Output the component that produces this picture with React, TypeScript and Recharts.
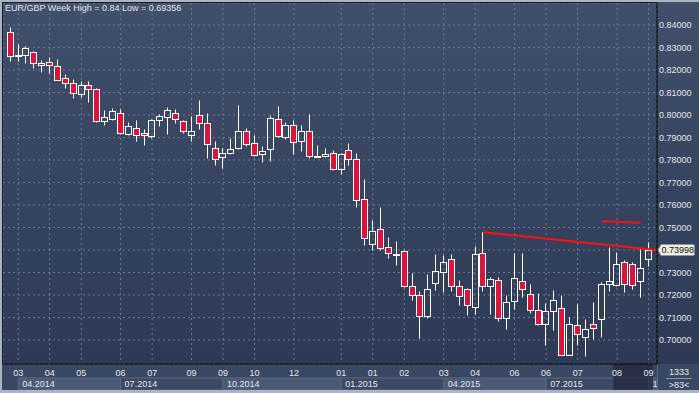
import React from 'react';
import { ComposedChart, Bar, XAxis, YAxis, CartesianGrid, ReferenceLine, ReferenceArea } from 'recharts';

// weekly EUR/GBP candles, oldest first
const opens = [
  0.8370, 0.8262, 0.8265, 0.8279, 0.8221, 0.8234, 0.8219, 0.8163, 0.8141, 0.8092,
  0.8132, 0.8114, 0.7972, 0.7984, 0.8007, 0.7917, 0.7942, 0.7919, 0.7908, 0.7978,
  0.7990, 0.8007, 0.7972, 0.7910, 0.7999, 0.7963, 0.7852, 0.7812, 0.7830, 0.7852,
  0.7929, 0.7874, 0.7825, 0.7848, 0.7981, 0.7901, 0.7954, 0.7883, 0.7929, 0.7816,
  0.7819, 0.7830, 0.7759, 0.7843, 0.7803, 0.7625, 0.7425, 0.7492, 0.7415, 0.7380,
  0.7394, 0.7241, 0.7199, 0.7108, 0.7252, 0.7304, 0.7359, 0.7239, 0.7225, 0.7148,
  0.7385, 0.7241, 0.7265, 0.7099, 0.7175, 0.7261, 0.7203, 0.7132, 0.7070, 0.7127,
  0.7144, 0.6935, 0.7068, 0.7015, 0.7070, 0.7095, 0.7248, 0.7243, 0.7348, 0.7336,
  0.7261, 0.7359,
];
const highs = [
  0.8392, 0.8316, 0.8307, 0.8284, 0.8243, 0.8256, 0.8248, 0.8182, 0.8159, 0.8151,
  0.8150, 0.8119, 0.8022, 0.8033, 0.8028, 0.7968, 0.7978, 0.7938, 0.7984, 0.8003,
  0.8034, 0.8025, 0.7978, 0.7996, 0.8067, 0.8007, 0.7886, 0.7852, 0.7896, 0.8044,
  0.7942, 0.7911, 0.7864, 0.8000, 0.8040, 0.7970, 0.7979, 0.7956, 0.8004, 0.7867,
  0.7855, 0.7844, 0.7830, 0.7876, 0.7830, 0.7716, 0.7533, 0.7591, 0.7459, 0.7440,
  0.7400, 0.7296, 0.7216, 0.7293, 0.7382, 0.7378, 0.7382, 0.7267, 0.7231, 0.7418,
  0.7479, 0.7281, 0.7281, 0.7200, 0.7388, 0.7388, 0.7249, 0.7208, 0.7163, 0.7222,
  0.7200, 0.7104, 0.7160, 0.7092, 0.7168, 0.7259, 0.7415, 0.7392, 0.7356, 0.7348,
  0.7408, 0.7434,
];
const lows = [
  0.8241, 0.8241, 0.8230, 0.8210, 0.8192, 0.8188, 0.8156, 0.8121, 0.8077, 0.8081,
  0.8059, 0.7970, 0.7956, 0.7978, 0.7917, 0.7911, 0.7886, 0.7867, 0.7899, 0.7951,
  0.7916, 0.7966, 0.7921, 0.7886, 0.7936, 0.7808, 0.7778, 0.7763, 0.7825, 0.7849,
  0.7864, 0.7819, 0.7792, 0.7797, 0.7901, 0.7894, 0.7827, 0.7841, 0.7810, 0.7815,
  0.7813, 0.7757, 0.7738, 0.7778, 0.7591, 0.7422, 0.7400, 0.7400, 0.7366, 0.7333,
  0.7236, 0.7179, 0.7010, 0.7099, 0.7224, 0.7212, 0.7218, 0.7156, 0.7111, 0.7114,
  0.7218, 0.7116, 0.7086, 0.7049, 0.7136, 0.7192, 0.7121, 0.7068, 0.6978, 0.7044,
  0.69356, 0.69356, 0.6978, 0.6930, 0.7003, 0.7015, 0.7219, 0.7241, 0.7215, 0.7227,
  0.7192, 0.7330,
];
const closes = [
  0.8262, 0.8266, 0.8296, 0.8230, 0.8231, 0.8221, 0.8157, 0.8141, 0.8096, 0.8132,
  0.8114, 0.7972, 0.7990, 0.8018, 0.7919, 0.7950, 0.7910, 0.7910, 0.7978, 0.7994,
  0.8021, 0.7984, 0.7928, 0.7929, 0.7963, 0.7870, 0.7803, 0.7830, 0.7849, 0.7929,
  0.7870, 0.7824, 0.7838, 0.7985, 0.7905, 0.7954, 0.7879, 0.7929, 0.7819, 0.7817,
  0.7825, 0.7759, 0.7825, 0.7803, 0.7621, 0.7452, 0.7484, 0.7408, 0.7385, 0.7379,
  0.7239, 0.7199, 0.7105, 0.7225, 0.7305, 0.7345, 0.7239, 0.7197, 0.7154, 0.7381,
  0.7241, 0.7270, 0.7096, 0.7168, 0.7274, 0.7225, 0.7132, 0.7070, 0.7127, 0.7176,
  0.6935, 0.7073, 0.7025, 0.7048, 0.7052, 0.7248, 0.7261, 0.7336, 0.7248, 0.7243,
  0.7319, 0.73998,
];

const monthTicks = [2, 6, 10, 15, 19, 24, 28, 32, 37, 43, 47, 51, 56, 60, 65, 69, 73, 78, 82];
const monthLabels = ['03', '04', '05', '06', '07', '09', '09', '10', '12', '01', '01', '02', '03', '04', '06', '06', '07', '08', '09'];
const quarterStarts = [2, 15, 28, 43, 56, 69, 82];
const quarterLabels = ['04.2014', '07.2014', '10.2014', '01.2015', '04.2015', '07.2015', '10.2015'];
const priceTicks = [0.70, 0.71, 0.72, 0.73, 0.74, 0.75, 0.76, 0.77, 0.78, 0.79, 0.80, 0.81, 0.82, 0.83, 0.84];
const trendLine = [{ x: 61, y: 0.7479 }, { x: 83.07, y: 0.73996 }];
const shortLine = [{ x: 76.05, y: 0.75276 }, { x: 81, y: 0.75213 }];
const lastPrice = 0.73998;

const xDomain = [0.074, 83.07];
const yDomain = [0.68933, 0.84978];

const candles = opens.map((o, k) => ({
  i: k + 1,
  o,
  h: highs[k],
  l: lows[k],
  c: closes[k],
  range: [lows[k], highs[k]],
}));

const textColor = '#e2e6ed';
const font = "Arial, 'Liberation Sans', sans-serif";

const snap = (v: number) => Math.round(v) + 0.5;

const Candle = (props: any) => {
  const { x, y, width, height, payload } = props;
  const { o, h, l, c } = payload;
  const span = h - l;
  const py = (v: number) => y + (span === 0 ? 0 : ((h - v) / span) * height);
  const cx = Math.floor(x + width / 2) + 0.5;
  const top = snap(py(Math.max(o, c)));
  const bot = Math.max(snap(py(Math.min(o, c))), top + 1);
  const hi = snap(y);
  const lo = snap(y + height);
  const up = c >= o;
  return (
    <g>
      <line x1={cx} x2={cx} y1={hi} y2={top} stroke="#ffffff" strokeWidth={1} />
      <line x1={cx} x2={cx} y1={bot} y2={lo} stroke="#ffffff" strokeWidth={1} />
      <rect x={cx - 3} y={top} width={6} height={bot - top} fill={up ? 'none' : '#dc143c'} stroke="#ffffff" strokeWidth={1} />
    </g>
  );
};

const PriceTag = (props: any) => {
  const { viewBox } = props;
  const x = viewBox.x + viewBox.width;
  const y = viewBox.y;
  return (
    <g>
      <path
        d={`M${x + 1},${y} L${x + 4},${y - 5.5} H${x + 36} Q${x + 37.5},${y - 5.5} ${x + 37.5},${y - 4} V${y + 4} Q${x + 37.5},${y + 5.5} ${x + 36},${y + 5.5} H${x + 4} Z`}
        fill="#f0f0e2"
        stroke="#8d94a0"
        strokeWidth={1}
      />
      <text x={x + 4.5} y={y + 3.3} fontSize={9} fill="#111111" fontFamily={font}>
        {lastPrice.toFixed(5)}
      </text>
    </g>
  );
};

// quarter label, cut down to what fits in its box (the last box is cut off by the edge)
const QuarterLabel = (props: any) => {
  const { viewBox, text } = props;
  const w = Math.max(viewBox.width, 0);
  const fits = Math.max(0, Math.ceil((w - 4) / 5));
  return (
    <svg x={viewBox.x} y={viewBox.y} width={w} height={Math.max(viewBox.height, 0)} overflow="hidden">
      <text x={4} y={viewBox.height / 2 + 3.2} fontSize={9} fill={textColor} fontFamily={font}>
        {text.slice(0, fits)}
      </text>
    </svg>
  );
};

export default function App() {
  return (
    <div
      style={{
        position: 'absolute',
        left: 0,
        top: 0,
        width: 699,
        height: 393,
        overflow: 'hidden',
        background: 'linear-gradient(#414f6b, #2c3853)',
        fontFamily: font,
      }}
    >
      <div style={{ position: 'absolute', left: 0, top: 364, width: 699, height: 29, background: '#3a4763' }} />
      <ComposedChart
        width={699}
        height={393}
        data={candles}
        margin={{ top: 3, right: 0, bottom: 0, left: 3 }}
        style={{ position: 'absolute', left: 0, top: 0 }}
      >
        <CartesianGrid stroke="#6c7c99" strokeDasharray="2 3" />
        <XAxis
          dataKey="i"
          type="number"
          domain={xDomain}
          allowDataOverflow
          ticks={monthTicks}
          interval={0}
          height={29}
          tickSize={0}
          tickMargin={6}
          axisLine={{ stroke: '#000000' }}
          tick={{ fill: textColor, fontSize: 9 }}
          tickFormatter={(v: number) => monthLabels[monthTicks.indexOf(v)] ?? ''}
        />
        <YAxis
          orientation="right"
          type="number"
          domain={yDomain}
          allowDataOverflow
          ticks={priceTicks}
          interval={0}
          width={42}
          tickSize={0}
          tickMargin={2}
          axisLine={{ stroke: '#000000' }}
          tick={{ fill: textColor, fontSize: 9, textAnchor: 'start' }}
          tickFormatter={(v: number) => (v === 0.74 ? '' : v.toFixed(5))}
        />
        {quarterStarts.map((s, k) => (
          <ReferenceArea
            key={quarterLabels[k]}
            x1={s}
            x2={quarterStarts[k + 1] ?? xDomain[1]}
            y1={0.6831}
            y2={0.6778}
            ifOverflow="visible"
            fill={k % 2 === 0 ? '#4b5975' : '#3c4864'}
            fillOpacity={1}
            stroke="#5b6883"
            label={<QuarterLabel text={quarterLabels[k]} />}
          />
        ))}
        <Bar dataKey="range" shape={<Candle />} isAnimationActive={false} />
        <ReferenceLine segment={trendLine} stroke="#ff1010" strokeWidth={2} ifOverflow="visible" />
        <ReferenceLine segment={shortLine} stroke="#ff1010" strokeWidth={2} ifOverflow="visible" />
        <ReferenceLine y={lastPrice} stroke="none" ifOverflow="visible" label={<PriceTag />} />
        <ReferenceArea x1={77.52} x2={82.56} y1={0.68933} y2={0.6778} ifOverflow="visible" fill="#1a2236" fillOpacity={0.6} />
      </ComposedChart>
      {/* frame */}
      <div style={{ position: 'absolute', left: 0, top: 0, width: 699, height: 2, background: '#aab4c4' }} />
      <div style={{ position: 'absolute', left: 0, top: 0, width: 2, height: 393, background: '#aab4c4' }} />
      <div style={{ position: 'absolute', left: 2, top: 2, width: 655, height: 1, background: '#141a27' }} />
      <div style={{ position: 'absolute', left: 2, top: 2, width: 1, height: 362, background: '#141a27' }} />
      <div style={{ position: 'absolute', left: 0, top: 390, width: 699, height: 3, background: '#aab4c4' }} />
      {/* title */}
      <div style={{ position: 'absolute', left: 5, top: 3, fontSize: 9, lineHeight: '10px', color: textColor, whiteSpace: 'nowrap' }}>
        EUR/GBP Week High = 0.84 Low = 0.69356
      </div>
      {/* bottom-right counter box */}
      <div
        style={{
          position: 'absolute',
          left: 657,
          top: 365,
          width: 42,
          height: 25,
          background: '#3a4763',
          borderLeft: '1px solid #5b6883',
          color: textColor,
          fontSize: 9,
          lineHeight: '10px',
          textAlign: 'center',
        }}
      >
        <div style={{ position: 'absolute', left: 0, right: 0, top: 2, height: 10 }}>1333</div>
        <div style={{ position: 'absolute', left: 8, width: 26, top: 13, height: 1, background: '#8893a8' }} />
        <div style={{ position: 'absolute', left: 0, right: 0, top: 15, height: 10 }}>&gt;83&lt;</div>
      </div>
    </div>
  );
}
